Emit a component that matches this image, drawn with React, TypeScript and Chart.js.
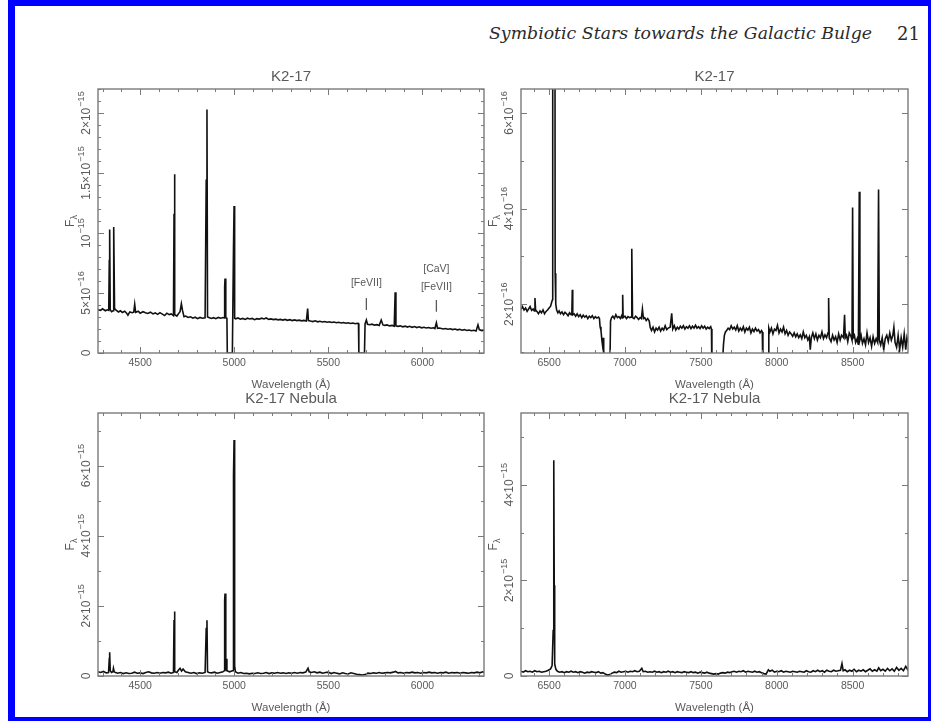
import React, { useEffect, useLayoutEffect, useRef } from "react";
import { Chart, registerables } from "chart.js";

Chart.register(...registerables);

type Pt = [number, number];
type YTick = [number, string];
type NoteLabel = [number, number, string];
type NoteMark = [number, number, number];

// ---------------- text ----------------
const HEADER_TEXT = "Symbiotic Stars towards the Galactic Bulge";
const PAGE_NUMBER = "21";
const STAR_TITLE = "K2-17";
const NEBULA_TITLE = "K2-17 Nebula";
const X_TITLE = "Wavelength (Å)";

// ---------------- axes ----------------
const BLUE_X_RANGE = [4276, 6327];
const RED_X_RANGE = [6315, 8865];
const BLUE_X_TICKS = [4500, 5000, 5500, 6000];
const RED_X_TICKS = [6500, 7000, 7500, 8000, 8500];

// star flux in units of 1e-16, nebula flux in units of 1e-15
const STAR_BLUE_Y_RANGE = [0, 22];
const STAR_RED_Y_RANGE = [0.98, 6.5];
const NEB_BLUE_Y_RANGE = [0, 7.5];
const NEB_RED_Y_RANGE = [0, 5.5];

const STAR_BLUE_Y_TICKS: YTick[] = [
  [0, "0"],
  [5, "5×10^−16"],
  [10, "10^−15"],
  [15, "1.5×10^−15"],
  [20, "2×10^−15"],
];
const STAR_RED_Y_TICKS: YTick[] = [
  [2, "2×10^−16"],
  [4, "4×10^−16"],
  [6, "6×10^−16"],
];
const NEB_BLUE_Y_TICKS: YTick[] = [
  [0, "0"],
  [2, "2×10^−15"],
  [4, "4×10^−15"],
  [6, "6×10^−15"],
];
const NEB_RED_Y_TICKS: YTick[] = [
  [0, "0"],
  [2, "2×10^−15"],
  [4, "4×10^−15"],
];

// line identifications in the K2-17 blue panel: [wavelength, flux, text]
const STAR_BLUE_NOTE_LABELS: NoteLabel[] = [
  [5702, 5.81, "[FeVII]"],
  [6074, 6.98, "[CaV]"],
  [6074, 5.53, "[FeVII]"],
];
const STAR_BLUE_NOTE_MARKS: NoteMark[] = [
  [5702, 4.58, 3.58],
  [6074, 4.42, 3.44],
];

// ---------------- spectra [wavelength, flux] ----------------
const STAR_BLUE: Pt[] = [
  [4276, 3.62], [4290, 3.55], [4300, 3.68], [4315, 3.52], [4325, 3.6], [4333, 3.55],
  [4336, 7.7], [4338, 10.3], [4341, 3.6], [4348, 3.45], [4356, 3.52], [4358, 8.3],
  [4361, 10.5], [4364, 3.7], [4372, 3.58], [4385, 3.42], [4395, 3.52], [4405, 3.38],
  [4418, 3.48], [4428, 3.32], [4435, 3.15], [4445, 3.42], [4458, 3.36], [4466, 3.4],
  [4471, 4.05], [4476, 3.38], [4490, 3.48], [4500, 3.32], [4515, 3.44], [4528, 3.36],
  [4540, 3.3], [4555, 3.4], [4568, 3.26], [4580, 3.34], [4593, 3.22], [4605, 3.36],
  [4618, 3.24], [4630, 3.12], [4642, 3.32], [4654, 3.2], [4665, 3.26], [4677, 3.12],
  [4680, 11.6], [4682, 14.9], [4685, 3.2], [4695, 3.08], [4705, 3.3], [4712, 3.45],
  [4719, 4.1], [4725, 3.55], [4733, 3.02], [4742, 3.08], [4755, 2.96], [4768, 3.02],
  [4780, 2.9], [4792, 2.98], [4805, 2.86], [4818, 2.96], [4830, 2.9], [4845, 2.94],
  [4851, 14.4], [4855, 20.3], [4858, 3.0], [4865, 2.96], [4878, 2.88], [4890, 2.94],
  [4902, 2.86], [4915, 2.96], [4928, 2.9], [4940, 2.96], [4947, 2.92], [4949, 5.5],
  [4951, 6.2], [4955, 2.95], [4961, 2.9], [4963, 0], [4990, 0], [4996, 8.85],
  [4999, 12.25], [5002, 2.9], [5008, 2.85], [5020, 2.92], [5032, 2.82], [5045, 2.88],
  [5058, 2.8], [5070, 2.9], [5082, 2.84], [5095, 2.88], [5108, 2.78], [5120, 2.86],
  [5133, 2.82], [5145, 2.9], [5158, 2.84], [5170, 2.92], [5183, 2.8], [5195, 2.84],
  [5208, 2.78], [5220, 2.82], [5233, 2.76], [5245, 2.8], [5258, 2.74], [5270, 2.8],
  [5283, 2.72], [5295, 2.78], [5308, 2.7], [5320, 2.76], [5333, 2.7], [5345, 2.74],
  [5358, 2.68], [5370, 2.72], [5383, 2.66], [5390, 3.7], [5394, 2.7], [5405, 2.66],
  [5418, 2.62], [5430, 2.68], [5443, 2.6], [5455, 2.64], [5468, 2.58], [5480, 2.62],
  [5493, 2.56], [5505, 2.6], [5518, 2.54], [5530, 2.58], [5543, 2.52], [5555, 2.56],
  [5568, 2.5], [5580, 2.54], [5593, 2.48], [5605, 2.52], [5618, 2.46], [5630, 2.5],
  [5643, 2.44], [5655, 2.48], [5660, 2.46], [5662, 0], [5692, 0], [5695, 2.42],
  [5702, 2.75], [5708, 2.4], [5720, 2.36], [5732, 2.4], [5745, 2.32], [5758, 2.36],
  [5770, 2.3], [5781, 2.75], [5790, 2.34], [5800, 2.3], [5812, 2.34], [5825, 2.26],
  [5838, 2.3], [5850, 2.24], [5855, 5.07], [5859, 2.26], [5870, 2.22], [5882, 2.26],
  [5895, 2.18], [5908, 2.24], [5920, 2.16], [5932, 2.22], [5945, 2.14], [5958, 2.2],
  [5970, 2.12], [5983, 2.18], [5995, 2.1], [6008, 2.14], [6020, 2.08], [6033, 2.12],
  [6045, 2.06], [6058, 2.1], [6066, 2.04], [6074, 2.52], [6080, 2.06], [6090, 2.08],
  [6100, 2.04], [6110, 2.0], [6122, 2.04], [6135, 1.98], [6148, 2.02], [6160, 1.95],
  [6173, 2.0], [6185, 1.93], [6198, 1.97], [6210, 1.9], [6223, 1.95], [6235, 1.88],
  [6248, 1.92], [6260, 1.86], [6273, 1.9], [6285, 1.84], [6295, 2.35], [6302, 1.95],
  [6315, 1.86], [6327, 1.9],
];

const STAR_RED: Pt[] = [
  [6315, 1.89], [6325, 1.95], [6335, 1.88], [6345, 1.92], [6355, 1.85], [6365, 1.9],
  [6375, 1.95], [6385, 1.87], [6395, 1.9], [6403, 1.86], [6407, 2.13], [6411, 1.88],
  [6420, 1.85], [6430, 1.8], [6440, 1.86], [6450, 1.82], [6460, 1.88], [6470, 1.8],
  [6480, 1.85], [6490, 1.88], [6500, 1.92], [6510, 1.96], [6518, 2.05], [6523, 2.1],
  [6524, 12], [6538, 12], [6540, 2.65], [6544, 2.0], [6550, 1.88], [6558, 1.82],
  [6566, 1.86], [6575, 1.8], [6585, 1.84], [6595, 1.78], [6605, 1.83], [6615, 1.8],
  [6625, 1.76], [6635, 1.82], [6645, 1.78], [6650, 1.8], [6653, 2.3], [6656, 1.78],
  [6665, 1.8], [6675, 1.75], [6685, 1.8], [6695, 1.74], [6705, 1.78], [6715, 1.72],
  [6725, 1.77], [6735, 1.73], [6745, 1.76], [6755, 1.7], [6765, 1.75], [6775, 1.72],
  [6785, 1.76], [6795, 1.7], [6805, 1.74], [6815, 1.71], [6826, 1.73], [6832, 1.7],
  [6836, 1.53], [6842, 1.45], [6848, 1.25], [6852, 1.15], [6856, 1.3], [6860, 1.05],
  [6862, 0.5], [6900, 0.5], [6905, 1.65], [6912, 1.72], [6920, 1.75], [6930, 1.7],
  [6940, 1.78], [6950, 1.72], [6960, 1.74], [6970, 1.7], [6978, 1.76], [6982, 1.72],
  [6985, 2.2], [6988, 1.72], [7000, 1.75], [7010, 1.7], [7020, 1.74], [7030, 1.72],
  [7040, 1.73], [7045, 3.16], [7050, 1.72], [7060, 1.7], [7070, 1.75], [7080, 1.72],
  [7090, 1.68], [7100, 1.72], [7108, 1.7], [7115, 1.9], [7122, 1.7], [7130, 1.72],
  [7140, 1.66], [7150, 1.7], [7160, 1.65], [7166, 1.52], [7175, 1.45], [7185, 1.52],
  [7195, 1.42], [7205, 1.5], [7215, 1.46], [7225, 1.52], [7235, 1.44], [7245, 1.5],
  [7255, 1.46], [7265, 1.55], [7275, 1.47], [7285, 1.5], [7298, 1.52], [7308, 1.81],
  [7315, 1.48], [7325, 1.55], [7335, 1.46], [7345, 1.52], [7355, 1.48], [7365, 1.54],
  [7375, 1.5], [7385, 1.55], [7395, 1.48], [7405, 1.53], [7415, 1.5], [7425, 1.55],
  [7435, 1.49], [7445, 1.54], [7455, 1.5], [7465, 1.56], [7475, 1.5], [7485, 1.53],
  [7495, 1.49], [7505, 1.55], [7515, 1.5], [7525, 1.54], [7535, 1.48], [7545, 1.52],
  [7555, 1.49], [7565, 1.53], [7570, 1.48], [7573, 0.5], [7600, 0.5], [7616, 0.5],
  [7640, 0.6], [7649, 1.15], [7655, 1.35], [7662, 1.42], [7670, 1.45], [7680, 1.5],
  [7690, 1.47], [7700, 1.55], [7710, 1.48], [7720, 1.52], [7730, 1.46], [7740, 1.55],
  [7750, 1.44], [7760, 1.5], [7770, 1.45], [7780, 1.53], [7790, 1.42], [7800, 1.5],
  [7810, 1.46], [7820, 1.52], [7830, 1.4], [7840, 1.48], [7850, 1.43], [7860, 1.5],
  [7870, 1.44], [7880, 1.47], [7890, 1.4], [7900, 1.45], [7905, 1.42], [7909, 0.5],
  [7945, 0.5], [7948, 1.5], [7955, 1.42], [7965, 1.5], [7975, 1.38], [7985, 1.48],
  [7995, 1.45], [8005, 1.56], [8015, 1.4], [8025, 1.48], [8035, 1.42], [8045, 1.52],
  [8055, 1.38], [8065, 1.45], [8075, 1.35], [8085, 1.42], [8095, 1.38], [8105, 1.33],
  [8115, 1.4], [8125, 1.32], [8135, 1.38], [8145, 1.3], [8155, 1.36], [8165, 1.28],
  [8175, 1.42], [8185, 1.3], [8195, 1.35], [8205, 1.25], [8215, 1.32], [8221, 1.05],
  [8228, 1.3], [8238, 1.4], [8248, 1.28], [8258, 1.38], [8268, 1.25], [8278, 1.35],
  [8288, 1.3], [8298, 1.42], [8308, 1.28], [8318, 1.36], [8328, 1.3], [8338, 1.4],
  [8342, 2.13], [8346, 1.3], [8358, 1.22], [8368, 1.35], [8378, 1.25], [8388, 1.32],
  [8398, 1.2], [8408, 1.38], [8418, 1.25], [8427, 1.35], [8440, 1.3], [8447, 1.78],
  [8452, 1.3], [8460, 1.35], [8468, 1.22], [8478, 1.4], [8490, 1.32], [8496, 1.25],
  [8500, 4.02], [8504, 1.3], [8512, 1.35], [8520, 1.2], [8530, 1.28], [8538, 1.15],
  [8544, 4.35], [8548, 1.25], [8556, 1.35], [8565, 1.18], [8575, 1.28], [8585, 1.15],
  [8595, 1.4], [8605, 1.2], [8615, 1.3], [8625, 1.12], [8635, 1.32], [8645, 1.18],
  [8655, 1.28], [8665, 1.2], [8671, 4.4], [8676, 1.25], [8685, 1.15], [8695, 1.3],
  [8705, 1.05], [8715, 1.28], [8725, 1.35], [8735, 1.22], [8745, 1.4], [8755, 1.25],
  [8765, 1.35], [8772, 1.52], [8780, 1.2], [8790, 1.1], [8800, 1.35], [8810, 1.05],
  [8820, 1.3], [8830, 1.1], [8840, 1.38], [8850, 1.05], [8858, 1.3], [8865, 1.2],
];

const NEB_BLUE: Pt[] = [
  [4276, 0.12], [4290, 0.1], [4305, 0.13], [4320, 0.09], [4332, 0.1], [4336, 0.5],
  [4338, 0.68], [4341, 0.15], [4348, 0.1], [4355, 0.12], [4358, 0.22], [4362, 0.12],
  [4366, 0.11], [4380, 0.08], [4395, 0.1], [4410, 0.07], [4425, 0.09], [4440, 0.07],
  [4455, 0.08], [4470, 0.11], [4485, 0.08], [4500, 0.09], [4515, 0.07], [4530, 0.1],
  [4545, 0.12], [4560, 0.09], [4575, 0.08], [4590, 0.1], [4605, 0.08], [4620, 0.1],
  [4635, 0.09], [4650, 0.11], [4665, 0.08], [4677, 0.1], [4680, 1.6], [4682, 1.84],
  [4685, 0.12], [4695, 0.1], [4705, 0.18], [4712, 0.22], [4720, 0.14], [4728, 0.2],
  [4740, 0.12], [4755, 0.1], [4770, 0.08], [4785, 0.1], [4800, 0.07], [4815, 0.09],
  [4830, 0.08], [4845, 0.1], [4851, 1.35], [4855, 1.59], [4858, 0.12], [4865, 0.1],
  [4880, 0.09], [4895, 0.11], [4910, 0.08], [4925, 0.1], [4940, 0.12], [4947, 0.15],
  [4949, 2.15], [4951, 2.35], [4955, 0.15], [4958, 0.49], [4961, 0.15], [4975, 0.12],
  [4990, 0.15], [4994, 0.15], [4996, 5.72], [4999, 6.73], [5002, 0.3], [5006, 0.12],
  [5020, 0.08], [5035, 0.1], [5050, 0.07], [5065, 0.08], [5080, 0.06], [5095, 0.08],
  [5110, 0.07], [5125, 0.09], [5140, 0.07], [5155, 0.08], [5170, 0.1], [5185, 0.07],
  [5200, 0.09], [5215, 0.08], [5230, 0.1], [5245, 0.08], [5260, 0.09], [5275, 0.07],
  [5290, 0.09], [5305, 0.08], [5320, 0.1], [5335, 0.08], [5350, 0.1], [5365, 0.09],
  [5380, 0.11], [5392, 0.22], [5398, 0.12], [5410, 0.1], [5425, 0.12], [5440, 0.09],
  [5455, 0.11], [5470, 0.08], [5485, 0.1], [5500, 0.11], [5515, 0.07], [5530, 0.1],
  [5545, 0.08], [5560, 0.06], [5575, 0.09], [5590, 0.07], [5605, 0.06], [5620, 0.09],
  [5635, 0.07], [5650, 0.05], [5665, 0.04], [5680, 0.03], [5695, 0.04], [5710, 0.08],
  [5725, 0.07], [5740, 0.09], [5755, 0.08], [5770, 0.1], [5785, 0.08], [5800, 0.09],
  [5815, 0.1], [5830, 0.09], [5845, 0.11], [5857, 0.13], [5870, 0.09], [5885, 0.1],
  [5900, 0.08], [5915, 0.1], [5930, 0.09], [5945, 0.11], [5960, 0.09], [5975, 0.1],
  [5990, 0.08], [6005, 0.1], [6020, 0.09], [6035, 0.11], [6050, 0.09], [6065, 0.1],
  [6080, 0.08], [6095, 0.1], [6110, 0.09], [6125, 0.11], [6140, 0.08], [6155, 0.1],
  [6170, 0.09], [6185, 0.1], [6200, 0.08], [6215, 0.1], [6230, 0.09], [6245, 0.08],
  [6260, 0.1], [6275, 0.09], [6290, 0.11], [6305, 0.09], [6320, 0.12], [6327, 0.1],
];

const NEB_RED: Pt[] = [
  [6315, 0.1], [6330, 0.08], [6345, 0.11], [6360, 0.09], [6375, 0.1], [6390, 0.08],
  [6405, 0.11], [6420, 0.09], [6435, 0.1], [6450, 0.08], [6465, 0.09], [6480, 0.1],
  [6495, 0.12], [6510, 0.15], [6520, 0.22], [6527, 0.95], [6531, 4.51], [6534, 1.9],
  [6537, 0.25], [6545, 0.14], [6555, 0.1], [6570, 0.08], [6585, 0.09], [6600, 0.07],
  [6615, 0.09], [6630, 0.08], [6645, 0.1], [6660, 0.08], [6675, 0.09], [6690, 0.07],
  [6705, 0.09], [6720, 0.08], [6735, 0.06], [6750, 0.08], [6765, 0.07], [6780, 0.09],
  [6795, 0.08], [6810, 0.07], [6825, 0.09], [6840, 0.06], [6855, 0.07], [6870, 0.04],
  [6885, 0.02], [6900, 0.03], [6915, 0.06], [6930, 0.08], [6945, 0.07], [6960, 0.1],
  [6975, 0.08], [6990, 0.09], [7005, 0.1], [7020, 0.08], [7035, 0.1], [7050, 0.09],
  [7065, 0.11], [7080, 0.09], [7095, 0.1], [7111, 0.16], [7120, 0.09], [7135, 0.1],
  [7150, 0.08], [7165, 0.09], [7180, 0.08], [7195, 0.1], [7210, 0.08], [7225, 0.09],
  [7240, 0.07], [7255, 0.09], [7270, 0.08], [7285, 0.1], [7300, 0.08], [7315, 0.09],
  [7330, 0.07], [7345, 0.09], [7360, 0.08], [7375, 0.07], [7390, 0.09], [7405, 0.08],
  [7420, 0.07], [7435, 0.09], [7450, 0.07], [7465, 0.08], [7480, 0.06], [7495, 0.08],
  [7510, 0.07], [7525, 0.06], [7540, 0.08], [7555, 0.06], [7570, 0.05], [7585, 0.04],
  [7600, 0.05], [7615, 0.04], [7630, 0.06], [7645, 0.07], [7660, 0.06], [7675, 0.08],
  [7690, 0.07], [7705, 0.09], [7720, 0.1], [7735, 0.08], [7750, 0.1], [7765, 0.09],
  [7780, 0.11], [7795, 0.08], [7810, 0.1], [7825, 0.09], [7840, 0.08], [7855, 0.1],
  [7870, 0.08], [7885, 0.09], [7900, 0.07], [7915, 0.05], [7930, 0.04], [7945, 0.13],
  [7955, 0.1], [7970, 0.12], [7985, 0.08], [8000, 0.1], [8015, 0.09], [8030, 0.11],
  [8045, 0.08], [8060, 0.1], [8075, 0.09], [8090, 0.08], [8105, 0.1], [8120, 0.09],
  [8135, 0.08], [8150, 0.1], [8165, 0.09], [8180, 0.08], [8195, 0.11], [8210, 0.09],
  [8225, 0.08], [8240, 0.11], [8255, 0.09], [8270, 0.12], [8285, 0.09], [8300, 0.11],
  [8315, 0.08], [8330, 0.12], [8345, 0.1], [8360, 0.09], [8375, 0.12], [8390, 0.1],
  [8405, 0.11], [8420, 0.12], [8430, 0.26], [8438, 0.11], [8450, 0.13], [8465, 0.09],
  [8480, 0.12], [8495, 0.1], [8510, 0.14], [8525, 0.09], [8540, 0.12], [8555, 0.1],
  [8570, 0.13], [8585, 0.09], [8600, 0.12], [8615, 0.15], [8630, 0.1], [8645, 0.13],
  [8660, 0.1], [8672, 0.17], [8685, 0.11], [8700, 0.14], [8715, 0.1], [8730, 0.16],
  [8745, 0.11], [8760, 0.15], [8775, 0.1], [8790, 0.18], [8805, 0.12], [8820, 0.16],
  [8835, 0.11], [8850, 0.2], [8860, 0.15], [8865, 0.12],
];

// ---------------- styling ----------------
const FONT = "'Liberation Sans', Arial, sans-serif";
const TEXT_COLOR = "#5a5a5a";
const FRAME_COLOR = "#7a7a7a";
const LINE_COLOR = "#111111";

type PanelCfg = {
  plot: [number, number, number, number]; // left, top, right, bottom (page px)
  title: string;
  titleOffset: number;
  data: Pt[];
  xRange: number[];
  yRange: number[];
  xTicks: number[];
  yTicks: YTick[];
  yMajorStep: number;
  noteLabels?: NoteLabel[];
  noteMarks?: NoteMark[];
};

const PAD = { left: 64, top: 30, right: 8, bottom: 42 };

function drawExpLabel(ctx: CanvasRenderingContext2D, text: string, size: number) {
  const [base, exp] = text.split("^");
  const bf = `${size}px ${FONT}`;
  const es = size * 0.76;
  const ef = `${es}px ${FONT}`;
  ctx.font = bf;
  const bw = ctx.measureText(base).width;
  let ew = 0;
  if (exp) {
    ctx.font = ef;
    ew = ctx.measureText(exp).width + 1;
  }
  const x0 = -(bw + ew) / 2;
  ctx.textAlign = "left";
  ctx.textBaseline = "middle";
  ctx.font = bf;
  ctx.fillText(base, x0, 0);
  if (exp) {
    ctx.font = ef;
    ctx.fillText(exp, x0 + bw + 1, -size * 0.45);
  }
}

function makeFramePlugin(cfg: PanelCfg) {
  return {
    id: "pgplotFrame",
    afterDatasetsDraw(chart: any) {
      const ctx: CanvasRenderingContext2D = chart.ctx;
      const a = chart.chartArea;
      const xs = chart.scales.x;
      const ys = chart.scales.y;
      ctx.save();

      // tick marks on all four sides
      ctx.strokeStyle = FRAME_COLOR;
      ctx.lineWidth = 1;
      const xMinor = 100;
      for (let v = Math.ceil(xs.min / xMinor) * xMinor; v <= xs.max; v += xMinor) {
        const len = v % 500 === 0 ? 6 : 3;
        const px = Math.round(xs.getPixelForValue(v)) + 0.5;
        ctx.beginPath();
        ctx.moveTo(px, a.bottom);
        ctx.lineTo(px, a.bottom - len);
        ctx.moveTo(px, a.top);
        ctx.lineTo(px, a.top + len);
        ctx.stroke();
      }
      for (let v = Math.ceil(ys.min); v <= ys.max; v += 1) {
        const len = v % cfg.yMajorStep === 0 ? 6 : 3;
        const py = Math.round(ys.getPixelForValue(v)) + 0.5;
        ctx.beginPath();
        ctx.moveTo(a.left, py);
        ctx.lineTo(a.left + len, py);
        ctx.moveTo(a.right, py);
        ctx.lineTo(a.right - len, py);
        ctx.stroke();
      }

      // frame
      ctx.lineWidth = 1.4;
      ctx.strokeRect(a.left, a.top, a.right - a.left, a.bottom - a.top);

      ctx.fillStyle = TEXT_COLOR;

      // x tick labels
      ctx.font = `10.5px ${FONT}`;
      ctx.textAlign = "center";
      ctx.textBaseline = "middle";
      cfg.xTicks.forEach((v) => {
        ctx.fillText(String(v), xs.getPixelForValue(v), a.bottom + 10);
      });

      // x title
      ctx.font = `11.5px ${FONT}`;
      ctx.fillText(X_TITLE, (a.left + a.right) / 2, a.bottom + 31.5);

      // panel title
      ctx.font = `15px ${FONT}`;
      ctx.fillText(cfg.title, (a.left + a.right) / 2, a.top + cfg.titleOffset);

      // y tick labels (rotated)
      cfg.yTicks.forEach(([v, s]) => {
        ctx.save();
        ctx.translate(a.left - 11.5, ys.getPixelForValue(v));
        ctx.rotate(-Math.PI / 2);
        drawExpLabel(ctx, s, 12);
        ctx.restore();
      });

      // y title F_lambda (rotated)
      ctx.save();
      ctx.translate(a.left - 27, (a.top + a.bottom) / 2);
      ctx.rotate(-Math.PI / 2);
      ctx.font = `12px ${FONT}`;
      const fw = ctx.measureText("F").width;
      ctx.font = `9px ${FONT}`;
      const lw = ctx.measureText("λ").width;
      const x0 = -(fw + lw) / 2;
      ctx.textAlign = "left";
      ctx.textBaseline = "middle";
      ctx.font = `12px ${FONT}`;
      ctx.fillText("F", x0, 0);
      ctx.font = `9px ${FONT}`;
      ctx.fillText("λ", x0 + fw, 4);
      ctx.restore();

      // line identifications
      if (cfg.noteLabels) {
        ctx.font = `10.5px ${FONT}`;
        ctx.textAlign = "center";
        ctx.textBaseline = "middle";
        cfg.noteLabels.forEach(([w, f, t]) => {
          ctx.fillText(t, xs.getPixelForValue(w), ys.getPixelForValue(f));
        });
      }
      if (cfg.noteMarks) {
        ctx.strokeStyle = TEXT_COLOR;
        ctx.lineWidth = 1.3;
        cfg.noteMarks.forEach(([w, f1, f2]) => {
          const px = xs.getPixelForValue(w);
          ctx.beginPath();
          ctx.moveTo(px, ys.getPixelForValue(f1));
          ctx.lineTo(px, ys.getPixelForValue(f2));
          ctx.stroke();
        });
      }

      ctx.restore();
    },
  };
}

function Panel({ cfg }: { cfg: PanelCfg }) {
  const ref = useRef<HTMLCanvasElement | null>(null);
  const [l, t, r, b] = cfg.plot;
  const width = r - l + PAD.left + PAD.right;
  const height = b - t + PAD.top + PAD.bottom;

  useEffect(() => {
    if (!ref.current) return;
    const chart = new Chart(ref.current, {
      type: "line",
      data: {
        datasets: [
          {
            data: cfg.data.map(([x, y]) => ({ x, y })),
            borderColor: LINE_COLOR,
            borderWidth: 1.6,
            pointRadius: 0,
            fill: false,
            tension: 0,
            clip: 0,
          } as any,
        ],
      },
      options: {
        responsive: false,
        animation: false,
        devicePixelRatio: 1,
        events: [],
        layout: { padding: PAD },
        scales: {
          x: { type: "linear", min: cfg.xRange[0], max: cfg.xRange[1], display: false },
          y: { type: "linear", min: cfg.yRange[0], max: cfg.yRange[1], display: false },
        },
        plugins: {
          legend: { display: false },
          tooltip: { enabled: false },
          title: { display: false },
        },
      },
      plugins: [makeFramePlugin(cfg)],
    });
    return () => chart.destroy();
  }, [cfg]);

  return (
    <canvas
      ref={ref}
      width={width}
      height={height}
      style={{
        position: "absolute",
        left: l - PAD.left,
        top: t - PAD.top,
        width,
        height,
      }}
    />
  );
}

const PANELS: PanelCfg[] = [
  {
    plot: [98, 89, 484, 353],
    title: STAR_TITLE,
    titleOffset: -12.5,
    data: STAR_BLUE,
    xRange: BLUE_X_RANGE,
    yRange: STAR_BLUE_Y_RANGE,
    xTicks: BLUE_X_TICKS,
    yTicks: STAR_BLUE_Y_TICKS,
    yMajorStep: 5,
    noteLabels: STAR_BLUE_NOTE_LABELS,
    noteMarks: STAR_BLUE_NOTE_MARKS,
  },
  {
    plot: [521, 89, 908, 353],
    title: STAR_TITLE,
    titleOffset: -12.5,
    data: STAR_RED,
    xRange: RED_X_RANGE,
    yRange: STAR_RED_Y_RANGE,
    xTicks: RED_X_TICKS,
    yTicks: STAR_RED_Y_TICKS,
    yMajorStep: 2,
  },
  {
    plot: [98, 413, 484, 676],
    title: NEBULA_TITLE,
    titleOffset: -14.5,
    data: NEB_BLUE,
    xRange: BLUE_X_RANGE,
    yRange: NEB_BLUE_Y_RANGE,
    xTicks: BLUE_X_TICKS,
    yTicks: NEB_BLUE_Y_TICKS,
    yMajorStep: 2,
  },
  {
    plot: [521, 413, 908, 676],
    title: NEBULA_TITLE,
    titleOffset: -14.5,
    data: NEB_RED,
    xRange: RED_X_RANGE,
    yRange: NEB_RED_Y_RANGE,
    xTicks: RED_X_TICKS,
    yTicks: NEB_RED_Y_TICKS,
    yMajorStep: 2,
  },
];

export default function App() {
  const headRef = useRef<HTMLSpanElement | null>(null);

  useLayoutEffect(() => {
    const el = headRef.current;
    if (!el) return;
    const w = el.getBoundingClientRect().width;
    if (w > 0) el.style.transform = `scaleX(${383 / w})`;
  }, []);

  return (
    <div
      style={{
        position: "absolute",
        left: 0,
        top: 0,
        width: 931,
        height: 721,
        background: "#ffffff",
        overflow: "hidden",
      }}
    >
      <span
        ref={headRef}
        style={{
          position: "absolute",
          left: 489,
          top: 26,
          font: "italic 16px 'DejaVu Serif', serif",
          lineHeight: "16px",
          color: "#2b2b2b",
          whiteSpace: "nowrap",
          transformOrigin: "0 0",
        }}
      >
        {HEADER_TEXT}
      </span>
      <span
        style={{
          position: "absolute",
          left: 897,
          top: 25,
          font: "18px 'DejaVu Serif', serif",
          lineHeight: "18px",
          color: "#2b2b2b",
          whiteSpace: "nowrap",
        }}
      >
        {PAGE_NUMBER}
      </span>
      {PANELS.map((p, i) => (
        <Panel key={i} cfg={p} />
      ))}
      <div
        style={{
          position: "absolute",
          left: 8,
          top: 0,
          width: 923,
          height: 721,
          boxSizing: "border-box",
          borderStyle: "solid",
          borderColor: "#0000ff",
          borderWidth: "6px 3px 4px 7px",
          pointerEvents: "none",
        }}
      />
    </div>
  );
}
